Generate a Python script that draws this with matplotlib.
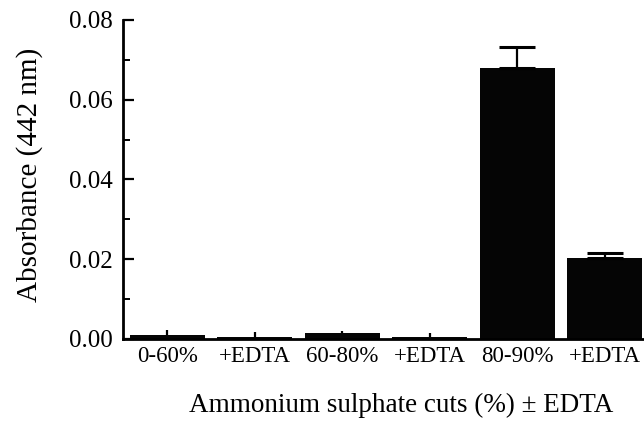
import matplotlib
matplotlib.use("Agg")
import matplotlib.pyplot as plt
import numpy as np
from matplotlib.ticker import MultipleLocator

categories = ["0-60%", "+EDTA", "60-80%", "+EDTA", "80-90%", "+EDTA"]
values = [0.0010, 0.0005, 0.0015, 0.0006, 0.0680, 0.0203]
errors = [0.0012, 0.0012, 0.0006, 0.0010, 0.0052, 0.0013]

plt.rcParams['font.family'] = ['Liberation Serif', 'DejaVu Serif']

fig = plt.figure(figsize=(6.44, 4.25), dpi=100)
ax = fig.add_axes([0.191, 0.2024, 0.809, 0.7506])

x = np.arange(len(categories))
ax.bar(x, values, width=0.86, color='#050505', edgecolor='none', zorder=2)
for xi, v, e in zip(x, values, errors):
    cs = 13.3 if v > 0.01 else 0
    ax.errorbar(xi, v, yerr=[[0], [e]], fmt='none', ecolor='black',
                elinewidth=1.6, capsize=cs, capthick=2.2, zorder=3)

ax.set_xlim(-0.505, 5.45)
ax.set_ylim(0, 0.08)
ax.yaxis.set_major_locator(MultipleLocator(0.02))
ax.yaxis.set_minor_locator(MultipleLocator(0.01))
ax.yaxis.set_major_formatter(matplotlib.ticker.FormatStrFormatter('%.2f'))
ax.tick_params(axis='y', which='major', direction='in', length=8, width=1.6,
               labelsize=18, pad=7.5)
ax.tick_params(axis='y', which='minor', direction='in', length=5, width=1.4)
ax.set_xticks(x)
ax.set_xticklabels(categories)
ax.tick_params(axis='x', length=0, labelsize=16.5, pad=5)

for s in ['top', 'right']:
    ax.spines[s].set_visible(False)
ax.spines['left'].set_linewidth(2)
ax.spines['bottom'].set_linewidth(2)

ax.set_ylabel("Absorbance (442 nm)", fontsize=21)
ax.yaxis.set_label_coords(-0.154, 0.514)
ax.set_xlabel("Ammonium sulphate cuts (%) ± EDTA", fontsize=19.5)
ax.xaxis.set_label_coords(0.534, -0.17)

fig.savefig("out.png", dpi=100)
